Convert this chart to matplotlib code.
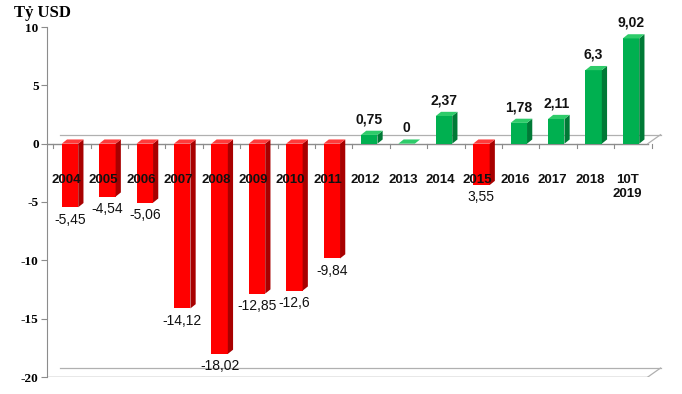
import numpy as np
import matplotlib.pyplot as plt
from matplotlib.patches import Polygon

# ---------------------------
# Data
# ---------------------------
categories = ['2004', '2005', '2006', '2007', '2008', '2009', '2010', '2011',
              '2012', '2013', '2014', '2015', '2016', '2017', '2018', '10T\n2019']
values = [-5.45, -4.54, -5.06, -14.12, -18.02, -12.85, -12.6, -9.84,
          0.75, 0.0, 2.37, -3.55, 1.78, 2.11, 6.3, 9.02]
value_labels = ['-5,45', '-4,54', '-5,06', '-14,12', '-18,02', '-12,85', '-12,6', '-9,84',
                '0,75', '0', '2,37', '3,55', '1,78', '2,11', '6,3', '9,02']
yticks = [-20, -15, -10, -5, 0, 5, 10]

# ---------------------------
# Style
# ---------------------------
RED_FRONT, RED_SIDE, RED_TOP = '#FF0000', '#A80000', '#FF3A3A'
GRN_FRONT, GRN_SIDE, GRN_TOP = '#00B050', '#007A36', '#2ECC6A'
AXIS_GRAY = '#8C8C8C'
BAR_W = 0.44
DX, DY = 0.14, 0.36          # fake depth offset in data units
FLOOR_DX, FLOOR_DY = 0.34, 0.77

W, H = 682, 394
fig = plt.figure(figsize=(W / 100, H / 100), dpi=100)
ax = fig.add_axes([47 / W, (H - 377) / H, 623 / W, 350 / H])
ax.set_xlim(-0.615, -0.615 + 623 / 37.4)
ax.set_ylim(-20, 10)

x = np.arange(len(categories))

# floor / back lines
x_end = len(categories) - 0.55
for yb in (0, -20):
    ax.plot([-0.615, x_end], [yb, yb], color=AXIS_GRAY, lw=1.0, zorder=1)
    ax.plot([-0.615 + FLOOR_DX, x_end + FLOOR_DX], [yb + FLOOR_DY, yb + FLOOR_DY],
            color='#B0B0B0', lw=0.9, zorder=1)
    ax.plot([x_end, x_end + FLOOR_DX], [yb, yb + FLOOR_DY], color='#B0B0B0', lw=0.9, zorder=1)
# category ticks under the zero line
for xt in np.arange(-0.5, len(categories), 1.0):
    ax.plot([xt + 0.05, xt + 0.05], [0, -0.35], color=AXIS_GRAY, lw=0.8, zorder=1)

# bars with a fake 3D look
for xi, v in zip(x, values):
    if v < 0:
        front, side, top = RED_FRONT, RED_SIDE, RED_TOP
    else:
        front, side, top = GRN_FRONT, GRN_SIDE, GRN_TOP
    l, r = xi - BAR_W / 2, xi + BAR_W / 2
    hi = max(v, 0)
    lo = min(v, 0)
    ax.bar(xi, v, width=BAR_W, color=front, zorder=3, linewidth=0)
    ax.add_patch(Polygon([(r, lo), (r + DX, lo + DY), (r + DX, hi + DY), (r, hi)],
                         closed=True, facecolor=side, edgecolor='none', zorder=3))
    ax.add_patch(Polygon([(l, hi), (r, hi), (r + DX, hi + DY), (l + DX, hi + DY)],
                         closed=True, facecolor=top, edgecolor='none', zorder=4))

# value labels
for xi, v, lab in zip(x, values, value_labels):
    if v < 0:
        ax.text(xi, v - 0.45, lab, ha='center', va='top', fontsize=10,
                family='Liberation Sans', color='#111111', zorder=5)
    else:
        ax.text(xi, v + 0.75, lab, ha='center', va='bottom', fontsize=10,
                fontweight='bold', family='Liberation Sans', color='#111111', zorder=5)

# category labels sit inside the plot below the zero line
for xi, cat in zip(x, categories):
    ax.text(xi - 0.1, -2.6, cat, ha='center', va='top', fontsize=9.5,
            fontweight='bold', family='Liberation Sans', color='#111111',
            linespacing=1.25, zorder=6)

# y axis
ax.set_yticks(yticks)
ax.set_yticklabels([str(t) for t in yticks], family='Liberation Serif',
                   fontweight='bold', fontsize=9.5)
ax.tick_params(axis='y', length=4, color=AXIS_GRAY, pad=2)
ax.set_xticks([])
for s in ['top', 'right', 'bottom']:
    ax.spines[s].set_visible(False)
ax.spines['left'].set_color(AXIS_GRAY)
ax.patch.set_alpha(0)

fig.text(14 / W, 1 - 13 / H, 'Tỷ USD', ha='left', va='center', family='Liberation Serif',
         fontweight='bold', fontsize=12)

fig.savefig('out.png', dpi=100)
